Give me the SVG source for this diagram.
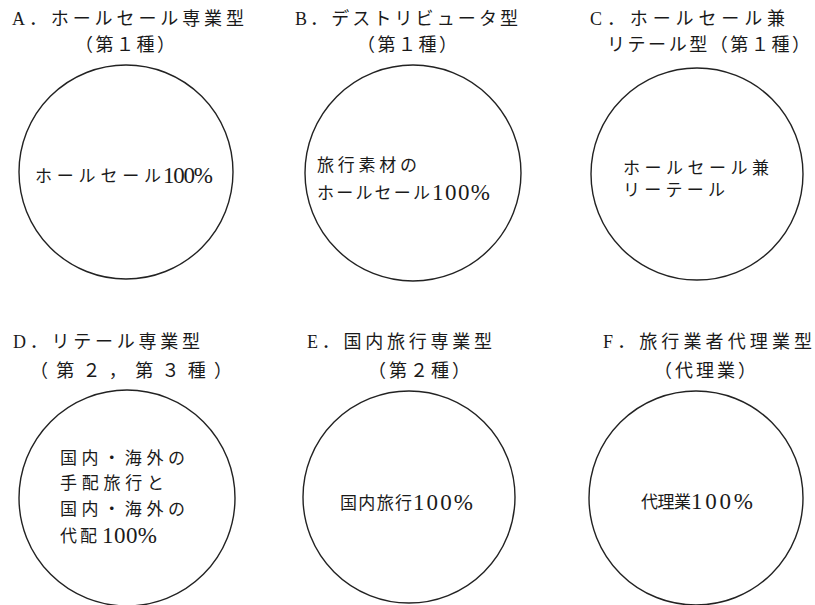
<svg xmlns="http://www.w3.org/2000/svg" width="815" height="605" viewBox="0 0 815 605">
<style>
  .bg { fill: #ffffff; }
  .circ { fill: none; stroke: #222222; stroke-width: 1.4; }
  .t { font-family: "Liberation Serif", "Noto Sans CJK JP", serif; font-size: 18px; fill: #1a1a1a; }
  .c { font-family: "Liberation Serif", "Noto Sans CJK JP", serif; font-size: 17px; fill: #1a1a1a; }
  .d { font-family: "Liberation Serif", "Noto Sans CJK JP", serif; font-size: 23px; fill: #1a1a1a; }
</style>
<rect class="bg" x="0" y="0" width="815" height="605"/>
<g id="connectors"></g>

<g id="nodeA">
  <text class="t" x="12" y="25" textLength="232" lengthAdjust="spacing">A．ホールセール専業型</text>
  <text class="t" x="75" y="51" textLength="100" lengthAdjust="spacing">（第１種）</text>
  <circle class="circ" cx="126" cy="172" r="107"/>
  <text class="c" x="35" y="182" textLength="126" lengthAdjust="spacing">ホールセール</text>
  <text class="d" x="163" y="183" textLength="50" lengthAdjust="spacing">100%</text>
</g>

<g id="nodeB">
  <text class="t" x="295" y="25" textLength="223" lengthAdjust="spacing">B．デストリビュータ型</text>
  <text class="t" x="357" y="51" textLength="100" lengthAdjust="spacing">（第１種）</text>
  <circle class="circ" cx="413" cy="173" r="108"/>
  <text class="c" x="317" y="171" textLength="100" lengthAdjust="spacing">旅行素材の</text>
  <text class="c" x="317" y="199" textLength="113" lengthAdjust="spacing">ホールセール</text>
  <text class="d" x="432" y="200" textLength="58" lengthAdjust="spacing">100%</text>
</g>

<g id="nodeC">
  <text class="t" x="590" y="25" textLength="195" lengthAdjust="spacing">C．ホールセール兼</text>
  <text class="t" x="607" y="51" textLength="203" lengthAdjust="spacing">リテール型（第１種）</text>
  <circle class="circ" cx="697" cy="174" r="106"/>
  <text class="c" x="623" y="174" textLength="146" lengthAdjust="spacing">ホールセール兼</text>
  <text class="c" x="623" y="196" textLength="102" lengthAdjust="spacing">リーテール</text>
</g>

<g id="nodeD">
  <text class="t" x="13" y="348" textLength="187" lengthAdjust="spacing">D．リテール専業型</text>
  <text class="t" x="30" y="377" textLength="202" lengthAdjust="spacing">（第２，第３種）</text>
  <circle class="circ" cx="127" cy="498" r="108"/>
  <text class="c" x="60" y="464" textLength="125" lengthAdjust="spacing" font-size="18">国内・海外の</text>
  <text class="c" x="60" y="489" textLength="104" lengthAdjust="spacing" font-size="18">手配旅行と</text>
  <text class="c" x="60" y="515" textLength="125" lengthAdjust="spacing" font-size="18">国内・海外の</text>
  <text class="c" x="60" y="542" textLength="37" lengthAdjust="spacing" font-size="18">代配</text>
  <text class="d" x="102" y="543" textLength="55" lengthAdjust="spacing">100%</text>
</g>

<g id="nodeE">
  <text class="t" x="307" y="348" textLength="185" lengthAdjust="spacing">E．国内旅行専業型</text>
  <text class="t" x="368" y="377" textLength="102" lengthAdjust="spacing">（第２種）</text>
  <circle class="circ" cx="409" cy="497" r="106"/>
  <text class="c" x="340" y="509" textLength="72" lengthAdjust="spacing">国内旅行</text>
  <text class="d" x="413" y="510" textLength="60" lengthAdjust="spacing">100%</text>
</g>

<g id="nodeF">
  <text class="t" x="603" y="348" textLength="209" lengthAdjust="spacing">F．旅行業者代理業型</text>
  <text class="t" x="654" y="377" textLength="102" lengthAdjust="spacing">（代理業）</text>
  <circle class="circ" cx="696" cy="498" r="107"/>
  <text class="c" x="641" y="508" textLength="50" lengthAdjust="spacing">代理業</text>
  <text class="d" x="691" y="509" textLength="62" lengthAdjust="spacing">100%</text>
</g>
</svg>
